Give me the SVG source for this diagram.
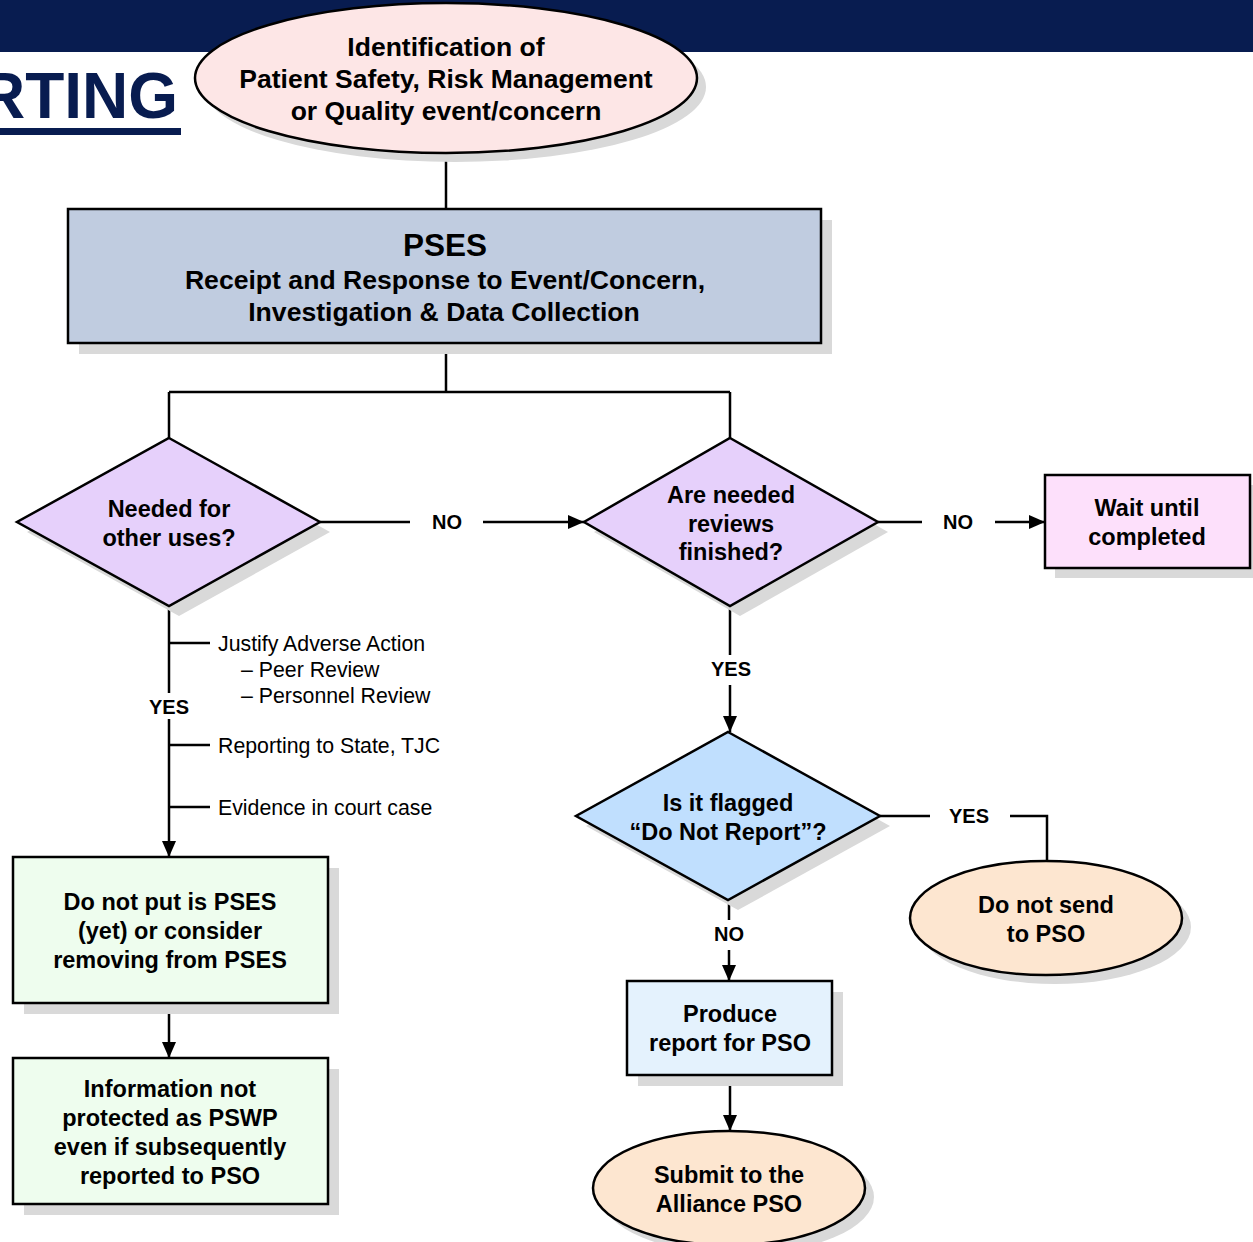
<svg xmlns="http://www.w3.org/2000/svg" width="1253" height="1242" viewBox="0 0 1253 1242">
<defs>
<style>
.t{font-family:"Liberation Sans",Arial,sans-serif;font-weight:bold;fill:#000;text-anchor:middle}
.n{font-size:23.5px}
.lbl{font-family:"Liberation Sans",Arial,sans-serif;font-weight:bold;font-size:20px;text-anchor:middle}
.note{font-family:"Liberation Sans",Arial,sans-serif;font-size:21.3px;fill:#000}
.sh{fill:#d9d9d9}
.ln{stroke:#000;stroke-width:2.5;fill:none}
.bx{stroke:#000;stroke-width:2.5}
</style>
<marker id="ah" viewBox="0 0 16 14" refX="16" refY="7" markerWidth="16" markerHeight="14" markerUnits="userSpaceOnUse" orient="auto">
<path d="M0,0 L16,7 L0,14 Z" fill="#000"/>
</marker>
</defs>
<rect width="1253" height="1242" fill="#fff"/>
<g id="header">
<rect x="0" y="0" width="1253" height="52" fill="#081c50"/>
<text x="178" y="118" font-family="Liberation Sans,Arial,sans-serif" font-weight="bold" font-size="64" fill="#081c50" text-anchor="end">RTING</text>
<rect x="0" y="128" width="181" height="7" fill="#081c50"/>
</g>
<g id="connectors">
<path class="ln" d="M446,153 V209"/>
<path class="ln" d="M446,343 V392 M169,392 H730 M169,392 V438 M730,392 V438"/>
<path class="ln" d="M320,522 H410"/>
<path class="ln" d="M483,522 H584" marker-end="url(#ah)"/>
<path class="ln" d="M878,522 H922"/>
<path class="ln" d="M995,522 H1045" marker-end="url(#ah)"/>
<path class="ln" d="M730,606 V655"/>
<path class="ln" d="M730,685 V732" marker-end="url(#ah)"/>
<path class="ln" d="M880,816 H930"/>
<path class="ln" d="M1010,816 H1047 V862"/>
<path class="ln" d="M729,900 V920"/>
<path class="ln" d="M729,950 V981" marker-end="url(#ah)"/>
<path class="ln" d="M730,1075 V1131" marker-end="url(#ah)"/>
<path class="ln" d="M169,606 V693"/>
<path class="ln" d="M169,719 V857" marker-end="url(#ah)"/>
<path class="ln" d="M169,643 H210 M169,745 H210 M169,807 H210"/>
<path class="ln" d="M169,1003 V1058" marker-end="url(#ah)"/>
<text class="lbl" x="447" y="529">NO</text>
<text class="lbl" x="958" y="529">NO</text>
<text class="lbl" x="731" y="676">YES</text>
<text class="lbl" x="969" y="823">YES</text>
<text class="lbl" x="729" y="941">NO</text>
<text class="lbl" x="169" y="714">YES</text>
<text class="note" x="218" y="651">Justify Adverse Action</text>
<text class="note" x="241" y="677">– Peer Review</text>
<text class="note" x="241" y="703">– Personnel Review</text>
<text class="note" x="218" y="753">Reporting to State, TJC</text>
<text class="note" x="218" y="815">Evidence in court case</text>
</g>
<g id="start">
<ellipse class="sh" cx="455" cy="87" rx="251" ry="75"/>
<ellipse class="bx" cx="446" cy="78" rx="251" ry="75" fill="#fde6e6"/>
<text class="t" font-size="26.5" x="446" y="56">Identification of</text>
<text class="t" font-size="26.5" x="446" y="88">Patient Safety, Risk Management</text>
<text class="t" font-size="26.5" x="446" y="120">or Quality event/concern</text>
</g>
<g id="pses">
<rect class="sh" x="79" y="220" width="753" height="134"/>
<rect class="bx" x="68" y="209" width="753" height="134" fill="#c0cce0"/>
<text class="t" font-size="31.5" x="445" y="256">PSES</text>
<text class="t" font-size="26.6" x="445" y="289">Receipt and Response to Event/Concern,</text>
<text class="t" font-size="26.6" x="444" y="321">Investigation &amp; Data Collection</text>
</g>
<g id="needed">
<polygon class="sh" points="179,448 330,532 179,616 27,532"/>
<polygon class="bx" points="169,438 320,522 169,606 17,522" fill="#e6d0fb"/>
<text class="t n" x="169" y="517">Needed for</text>
<text class="t n" x="169" y="546">other uses?</text>
</g>
<g id="reviews">
<polygon class="sh" points="740,448 888,532 740,616 594,532"/>
<polygon class="bx" points="730,438 878,522 730,606 584,522" fill="#e6d0fb"/>
<text class="t n" x="731" y="503">Are needed</text>
<text class="t n" x="731" y="532">reviews</text>
<text class="t n" x="731" y="560">finished?</text>
</g>
<g id="wait">
<rect class="sh" x="1055" y="485" width="205" height="93"/>
<rect class="bx" x="1045" y="475" width="205" height="93" fill="#fde0fb"/>
<text class="t n" x="1147" y="516">Wait until</text>
<text class="t n" x="1147" y="545">completed</text>
</g>
<g id="flagged">
<polygon class="sh" points="738,742 890,826 738,910 586,826"/>
<polygon class="bx" points="728,732 880,816 728,900 576,816" fill="#c0dffe"/>
<text class="t n" x="728" y="811">Is it flagged</text>
<text class="t n" x="728" y="840">“Do Not Report”?</text>
</g>
<g id="donotsend">
<ellipse class="sh" cx="1055" cy="927" rx="136" ry="57"/>
<ellipse class="bx" cx="1046" cy="918" rx="136" ry="57" fill="#fde6d0"/>
<text class="t n" x="1046" y="913">Do not send</text>
<text class="t n" x="1046" y="942">to PSO</text>
</g>
<g id="produce">
<rect class="sh" x="638" y="992" width="205" height="94"/>
<rect class="bx" x="627" y="981" width="205" height="94" fill="#e4f2fd"/>
<text class="t n" x="730" y="1022">Produce</text>
<text class="t n" x="730" y="1051">report for PSO</text>
</g>
<g id="submit">
<ellipse class="sh" cx="738" cy="1197" rx="136" ry="57"/>
<ellipse class="bx" cx="729" cy="1188" rx="136" ry="57" fill="#fde6d0"/>
<text class="t n" x="729" y="1183">Submit to the</text>
<text class="t n" x="729" y="1212">Alliance PSO</text>
</g>
<g id="donotput">
<rect class="sh" x="24" y="868" width="315" height="146"/>
<rect class="bx" x="13" y="857" width="315" height="146" fill="#eefdee"/>
<text class="t n" x="170" y="910">Do not put is PSES</text>
<text class="t n" x="170" y="939">(yet) or consider</text>
<text class="t n" x="170" y="968">removing from PSES</text>
</g>
<g id="info">
<rect class="sh" x="24" y="1069" width="315" height="146"/>
<rect class="bx" x="13" y="1058" width="315" height="146" fill="#eefdee"/>
<text class="t n" x="170" y="1097">Information not</text>
<text class="t n" x="170" y="1126">protected as PSWP</text>
<text class="t n" x="170" y="1155">even if subsequently</text>
<text class="t n" x="170" y="1184">reported to PSO</text>
</g>
</svg>
